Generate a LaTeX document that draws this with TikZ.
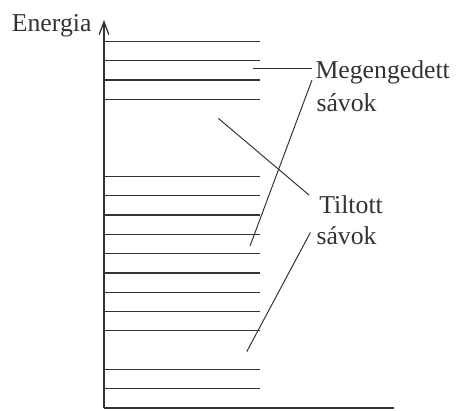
\documentclass[tikz,border=0pt]{standalone}
\usepackage{fontspec}
\setmainfont{Liberation Serif}
\usetikzlibrary{arrows.meta}

\begin{document}
\begin{tikzpicture}[line width=0.8pt,color=black!80,>={Straight Barb[length=0.32cm,width=0.24cm]},
  label/.style={font=\fontsize{18.3}{22}\selectfont,inner sep=0.07cm},
  level/.style={line width=0.9pt},
  lead/.style={line width=0.7pt}]
\useasboundingbox (-2.6,-0.075) rectangle (8.825,10.2);
% ================= axes =================
\coordinate (O) at (0,0);
\coordinate (ytop) at (0,9.7);
\coordinate (xend) at (7.25,0);
\draw[->,line width=0.9pt] (O) -- (ytop);
\draw[line width=0.9pt] (O) -- (xend);
\node[label,anchor=base east] (energia) at (-0.23,9.41) {Energia};
% ================= energy levels =================
% step 0.4825 ; gaps at k=3 and k=13..15
\foreach \k in {1,2,4,5,...,12,16,17,18,19}
  \draw[level] (0,\k*0.4825) -- (3.9,\k*0.4825);
% ================= labels =================
\node[label,anchor=base west] (meg) at (5.205,8.24) {Megengedett};
\node[label,anchor=base west] (sav1) at (5.23,7.4) {sávok};
\node[label,anchor=base west] (tilt) at (5.3,4.87) {Tiltott};
\node[label,anchor=base west] (sav2) at (5.23,4.075) {sávok};
% leader lines
\coordinate (mtick) at (3.725,8.49);
\coordinate (mtop) at (5.2,8.2);
\coordinate (mbot) at (3.65,4.05);
\coordinate (tgap) at (2.86,7.24);
\coordinate (tend) at (5.13,5.32);
\coordinate (stop) at (5.16,4.39);
\coordinate (sbot) at (3.57,1.41);
\draw[lead] (mtick) -- (mtick -| meg.west);
\draw[lead] (mtop) -- (mbot);
\draw[lead] (tgap) -- (tend);
\draw[lead] (stop) -- (sbot);
\end{tikzpicture}
\end{document}
